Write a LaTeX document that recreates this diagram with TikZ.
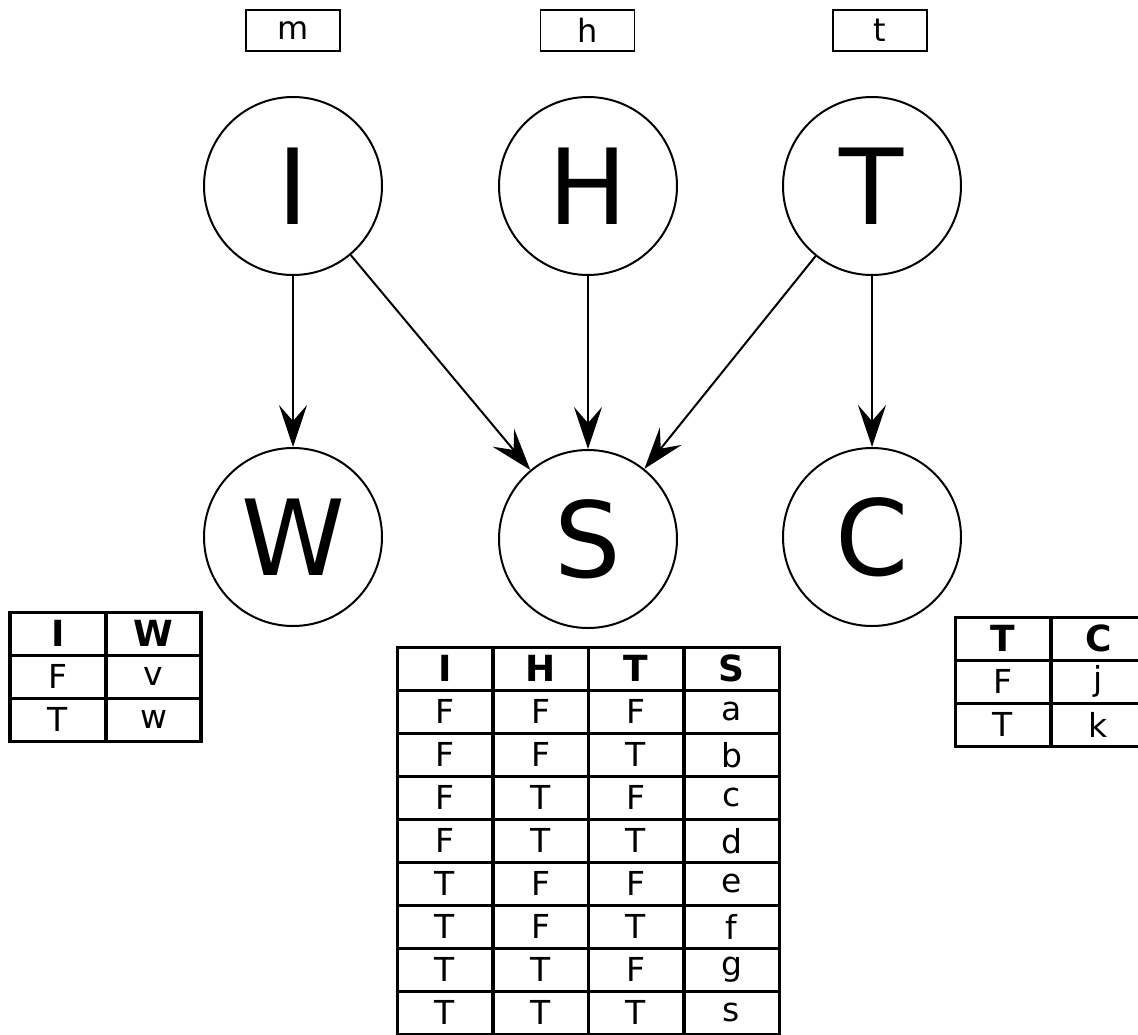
\documentclass[tikz,border=0pt]{standalone}
\usepackage{fontspec}
\setmainfont{DejaVu Sans}
\usetikzlibrary{matrix}
\usetikzlibrary{arrows.meta}
\tikzset{
	>={Stealth[length=42pt,width=28pt,inset=16pt]},
	knoten/.style={
		circle,
		draw=black, line width=2pt,
		minimum size=178pt,
		inner sep=0pt,
		font=\fontsize{105}{105}\selectfont},
	wert/.style={
		rectangle,
		draw=black, line width=1.5pt,
		minimum width=94pt,
		minimum height=41pt,
		font=\fontsize{32}{32}\selectfont},
	kante/.style={draw, line width=2pt, ->},
	tafel/.style={
		matrix of nodes,
		anchor=north west,
		inner sep=0pt, outer sep=0pt,
		row sep=-3.5pt, column sep=-3.5pt,
		nodes={
			draw=black, line width=3.5pt,
			minimum width=95.5pt,
			minimum height=43pt,
			inner sep=0pt, outer sep=0pt,
			anchor=center,
			font=\fontsize{33}{33}\selectfont},
		row 1/.style={nodes={font=\fontsize{36}{36}\selectfont\bfseries}}},
}

\begin{document}
\begin{tikzpicture}[x=1pt, y=-1pt]
	\useasboundingbox (0,0) rectangle (1138,1034);

	% werte oben
	\node[wert] (m) at (293,30.5) {m};
	\node[wert] (h) at (587.5,30.5) {h};
	\node[wert] (t) at (880,30.5) {t};

	% knoten
	\node[knoten] (I) at (293,186) {I};
	\node[knoten] (H) at (588,186) {H};
	\node[knoten] (T) at (872,186) {T};
	\node[knoten] (W) at (293,537) {W};
	\node[knoten] (S) at (588,539) {S};
	\node[knoten] (C) at (872,537) {C};

	\draw[kante] (I) -- (W);
	\draw[kante] (I) -- (S);
	\draw[kante] (H) -- (S);
	\draw[kante] (T) -- (S);
	\draw[kante] (T) -- (C);

	% tafeln
	\matrix[tafel] (tw) at (8.5,610.5) {
		I & W \\
		F & v \\
		T & w \\
	};
	\matrix[tafel] (ts) at (395.5,645.5) {
		I & H & T & S \\
		F & F & F & a \\
		F & F & T & b \\
		F & T & F & c \\
		F & T & T & d \\
		T & F & F & e \\
		T & F & T & f \\
		T & T & F & g \\
		T & T & T & s \\
	};
	\matrix[tafel] (tc) at (953.5,615.5) {
		T & C \\
		F & j \\
		T & k \\
	};
\end{tikzpicture}
\end{document}
